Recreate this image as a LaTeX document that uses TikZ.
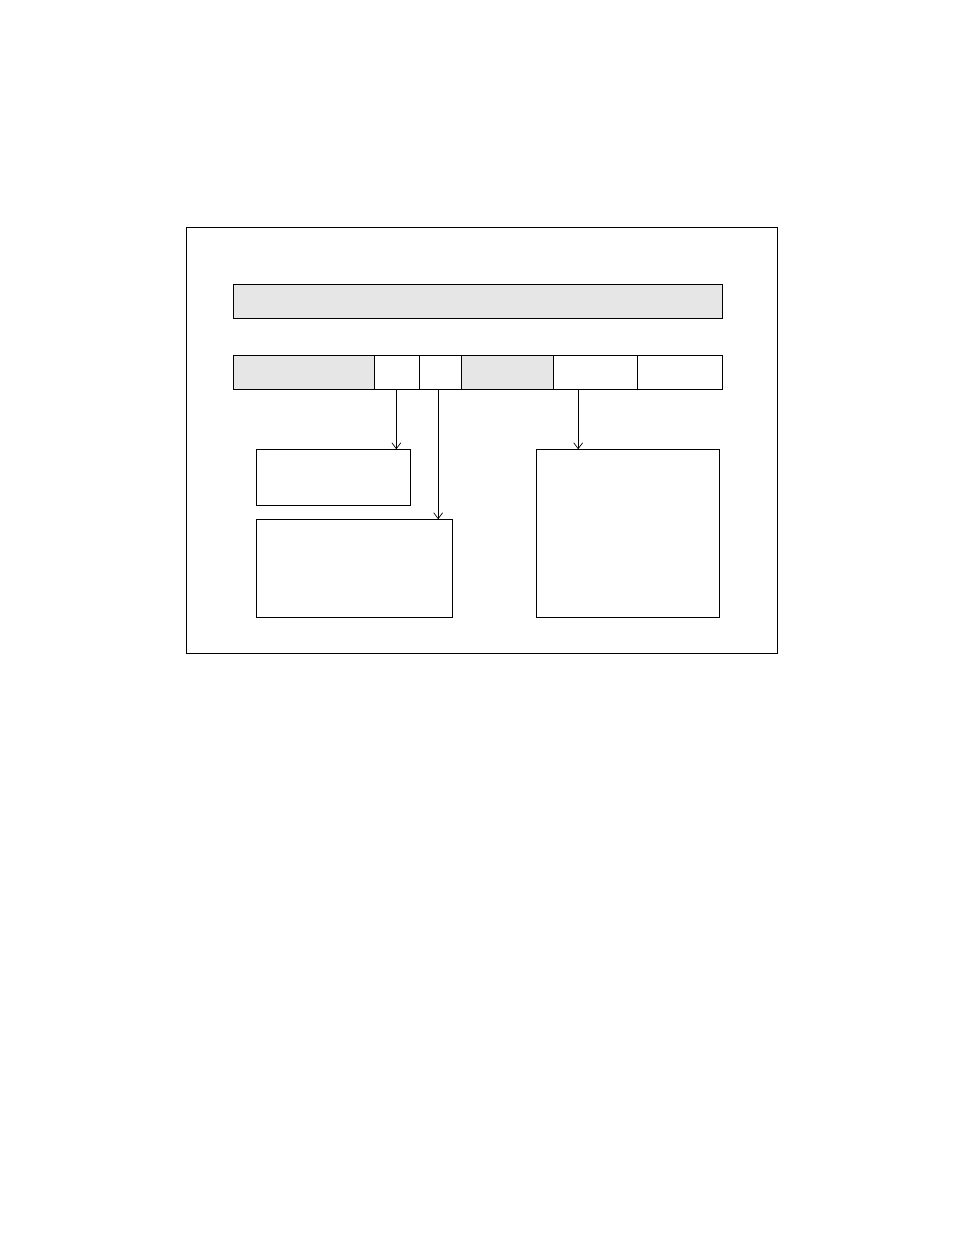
\documentclass[tikz,border=0pt]{standalone}
\usetikzlibrary{arrows.meta}
\definecolor{cellgray}{HTML}{E6E6E6}
\begin{document}
\begin{tikzpicture}[x=1pt,y=-1pt,
  box/.style={draw=black,line width=0.9pt,inner sep=0pt,outer sep=0pt,anchor=north west},
  graybox/.style={box,fill=cellgray},
  conn/.style={draw=black,line width=0.9pt,-{Straight Barb[length=6pt,width=9pt,line width=0.7pt]}}]
\useasboundingbox (0,0) rectangle (954,1235);
\node[box,minimum width=591pt,minimum height=426pt] (frame) at (186,227) {};
\node[graybox,minimum width=489pt,minimum height=34pt] (top) at (233,284) {};
\node[graybox,minimum width=141.5pt,minimum height=34pt] (c1) at (233,355) {};
\node[box,minimum width=44.7pt,minimum height=34pt] (c2) at (374.5,355) {};
\node[box,minimum width=42pt,minimum height=34pt] (c3) at (419.2,355) {};
\node[graybox,minimum width=92pt,minimum height=34pt] (c4) at (461.2,355) {};
\node[box,minimum width=84pt,minimum height=34pt] (c5) at (553.2,355) {};
\node[box,minimum width=84.8pt,minimum height=34pt] (c6) at (637.2,355) {};
\node[box,minimum width=154.4pt,minimum height=56pt] (b1) at (256.3,449.3) {};
\node[box,minimum width=196.4pt,minimum height=98pt] (b2) at (256.3,519.3) {};
\node[box,minimum width=183pt,minimum height=168pt] (b3) at (536.3,449.3) {};
\coordinate (a1) at ([xshift=-0.5pt]c2.south);
\coordinate (a2) at ([xshift=-2pt]c3.south);
\coordinate (a3) at ([xshift=-17pt]c5.south);
\draw[conn] (a1) -- (a1 |- b1.north);
\draw[conn] (a2) -- (a2 |- b2.north);
\draw[conn] (a3) -- (a3 |- b3.north);
\end{tikzpicture}
\end{document}
